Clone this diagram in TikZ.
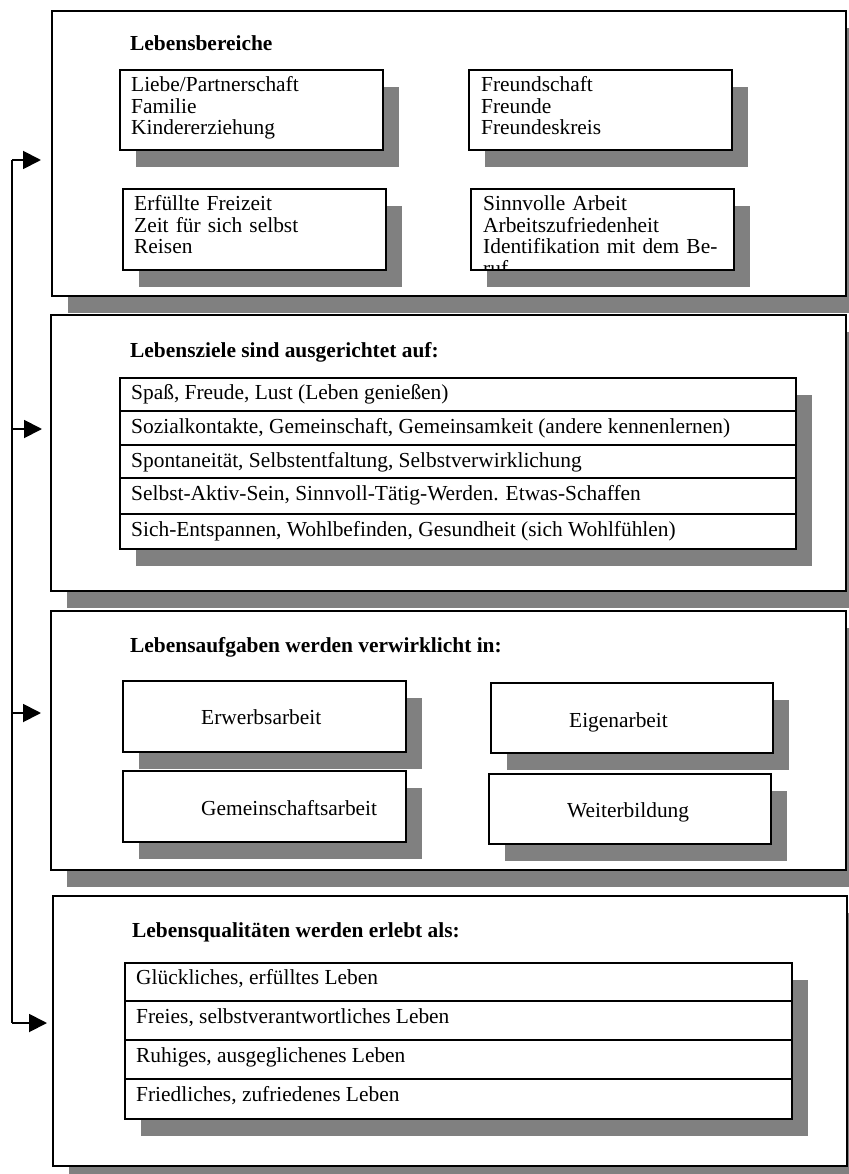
\documentclass[tikz,border=0pt]{standalone}
\usepackage{fontspec}
\setmainfont{Liberation Serif}
\usetikzlibrary{arrows.meta,positioning,shadows}

\tikzset{
  % frames with a hard grey shadow
  panel/.style={draw, line width=1.9pt, fill=white, anchor=north west, inner sep=0pt,
    drop shadow={shadow xshift=16pt, shadow yshift=-17pt, opacity=1, fill=black!50}},
  itembox/.style={panel},
  heading/.style={anchor=base west, inner sep=0pt, font=\fontsize{21.4}{21.5}\selectfont\bfseries},
  entry/.style={anchor=base west, inner sep=0pt, font=\fontsize{21.4}{21.5}\selectfont},
  lines/.style={entry, text width=250pt, align=left},
  divider/.style={line width=1.9pt},
  feed/.style={line width=1.9pt, -{Triangle[length=18pt,width=18pt]}},
}

\begin{document}
\begin{tikzpicture}[x=1pt, y=-1pt]
  \useasboundingbox (0,0) rectangle (848,1174);

  % Panels
  \node[panel, minimum width=794pt, minimum height=285pt] (p1) at (51,10) {};
  \node[heading] (t1) at (130,51) {Lebensbereiche};

  % Life areas
  \node[itembox, minimum width=263pt, minimum height=80pt] (love) at (119,69) {};
  \node[itembox, minimum width=263pt, minimum height=80pt] (friends) at (468,69) {};
  \node[itembox, minimum width=263pt, minimum height=81pt] (leisure) at (122,188) {};
  \node[itembox, minimum width=263pt, minimum height=81pt] (work) at (470,188) {};
  \node[lines] (love-t) at (131,92) {Liebe/Partnerschaft\\Familie\\Kindererziehung};
  \node[lines] (friends-t) at (481,92) {Freundschaft\\Freunde\\Freundeskreis};
  \node[lines] (leisure-t) at (134,211) {Erfüllte Freizeit\\Zeit für sich selbst\\Reisen};
  \begin{scope}
    \clip (work.north west) rectangle (work.south east);
    \node[lines] (work-t) at (483,211) {Sinnvolle Arbeit\\Arbeitszufriedenheit\\Identifikation mit dem Be-\\ruf};
  \end{scope}

  \node[panel, minimum width=795pt, minimum height=276pt] (p2) at (50,314) {};
  \node[heading] (t2) at (130,357) {Lebensziele sind ausgerichtet auf:};

  % Life goals
  \node[itembox, minimum width=676pt, minimum height=171pt] (goals) at (119,377) {};
  \foreach \y in {411,445,478,514}
    \draw[divider] (119,\y) -- (795,\y);
  \foreach \ytop/\txt [count=\i] in {
      377/{Spaß, Freude, Lust (Leben genießen)},
      411/{Sozialkontakte, Gemeinschaft, Gemeinsamkeit (andere kennenlernen)},
      445/{Spontaneität, Selbstentfaltung, Selbstverwirklichung},
      478/{Selbst-Aktiv-Sein, Sinnvoll-Tätig-Werden. Etwas-Schaffen},
      514/{Sich-Entspannen, Wohlbefinden, Gesundheit (sich Wohlfühlen)}}
    \node[entry] (goal\i) at (131,\ytop+22) {\txt};

  \node[panel, minimum width=795pt, minimum height=259pt] (p3) at (50,610) {};
  \node[heading] (t3) at (130,652) {Lebensaufgaben werden verwirklicht in:};

  % Life tasks
  \node[itembox, minimum width=283pt, minimum height=71pt] (paid) at (122,680) {};
  \node[itembox, minimum width=282pt, minimum height=70pt] (own) at (490,682) {};
  \node[itembox, minimum width=283pt, minimum height=71pt] (common) at (122,770) {};
  \node[itembox, minimum width=282pt, minimum height=70pt] (train) at (488,773) {};
  \node[entry] (paid-t) at (201,724) {Erwerbsarbeit};
  \node[entry] (own-t) at (569,727) {Eigenarbeit};
  \node[entry] (common-t) at (201,815) {Gemeinschaftsarbeit};
  \node[entry] (train-t) at (567,817) {Weiterbildung};

  \node[panel, minimum width=794pt, minimum height=270pt] (p4) at (52,895) {};
  \node[heading] (t4) at (132,937) {Lebensqualitäten werden erlebt als:};

  % Life qualities
  \node[itembox, minimum width=667pt, minimum height=156pt] (quals) at (124,962) {};
  \foreach \y in {1001,1040,1079}
    \draw[divider] (124,\y) -- (791,\y);
  \foreach \ytop/\txt [count=\i] in {
      962/{Glückliches, erfülltes Leben},
      1001/{Freies, selbstverantwortliches Leben},
      1040/{Ruhiges, ausgeglichenes Leben},
      1079/{Friedliches, zufriedenes Leben}}
    \node[entry] (qual\i) at (136,\ytop+22) {\txt};

  % Feedback line
  \coordinate (a1) at (12,160);
  \coordinate (a2) at (12,429);
  \coordinate (a3) at (12,713);
  \coordinate (a4) at (12,1023);
  \draw[line width=1.9pt] (a1) -- (a4);
  \foreach \i/\gap in {1/10,2/8,3/9,4/5}
    \draw[feed, shorten >=\gap pt] (a\i) -- (a\i -| p\i.west);
\end{tikzpicture}
\end{document}
